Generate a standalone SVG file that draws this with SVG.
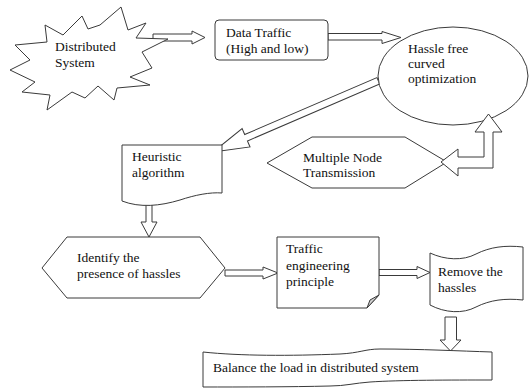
<svg xmlns="http://www.w3.org/2000/svg" width="529" height="388" viewBox="0 0 529 388">
  <style>
    .shape { fill: #ffffff; stroke: #3a3a3a; stroke-width: 1; stroke-linejoin: miter; }
    .arrow { fill: #ffffff; stroke: #3a3a3a; stroke-width: 1; stroke-linejoin: miter; }
    text { font-family: "Times New Roman", "Liberation Serif", "DejaVu Serif", "Noto Serif", serif; font-size: 13.5px; fill: #111111; }
  </style>
  <rect width="529" height="388" fill="#ffffff"/>

  <!-- connectors (hollow block arrows) -->
  <g id="connectors">
    <polygon class="arrow" points="153,34 192,34 192,31 205,37.5 192,44 192,41 153,41"/>
    <polygon class="arrow" points="328,33.5 382,33.5 382,31.5 401,37.5 382,43.5 382,40 328,40"/>
    <g transform="translate(213,152) rotate(156.7)">
      <polygon class="arrow" points="0,0 -36,-10 -36,-3.5 -180,-3.5 -180,3.5 -36,3.5 -36,10"/>
    </g>
    <polygon class="arrow" points="146,202 152,202 152,222 157,222 149,237 141,222 146,222"/>
    <polygon class="arrow" points="225,270 263,270 263,267 278,273 263,279 263,276 225,276"/>
    <polygon class="arrow" points="379,269.5 417,269.5 417,266.5 430,272.5 417,278.5 417,275.5 379,275.5"/>
    <polygon class="arrow" points="445,317 456.5,317 456.5,340 461,340 450.5,351 440,340 445,340"/>
  </g>

  <!-- Distributed System (explosion) -->
  <g id="distributed-system">
    <polygon class="shape" points="45,25 63,35 82,16 88,29 100,25 121,7 128,30 146,23 136,38 168,39 142,52 152,68 130,77 150,85 117,88 114,100 98,86 85,98 72,92 47,110 50,95 22,92 35,82 10,70 30,60 15,45 47,42"/>
    <text x="55" y="51">Distributed</text>
    <text x="55" y="67">System</text>
  </g>

  <!-- Data Traffic -->
  <g id="data-traffic">
    <rect class="shape" x="215" y="20" width="113" height="40" rx="4" ry="4"/>
    <text x="226" y="37">Data Traffic</text>
    <text x="226" y="53">(High and low)</text>
  </g>

  <!-- Hassle free curved optimization -->
  <g id="hassle-free">
    <ellipse class="shape" cx="453" cy="76" rx="75" ry="49"/>
    <text x="408" y="53">Hassle free</text>
    <text x="408" y="68">curved</text>
    <text x="408" y="83">optimization</text>
  </g>

  <!-- Heuristic algorithm (document) -->
  <g id="heuristic">
    <path class="shape" d="M122,145 H222 V193 C210,192 195,195 180,200 C160,206 140,208 122,201 Z"/>
    <text x="132" y="161">Heuristic</text>
    <text x="132" y="177">algorithm</text>
  </g>

  <!-- Multiple Node Transmission (hexagon) -->
  <g id="multiple-node">
    <polygon class="shape" points="312,137 405,137 447,162 405,188 312,188 267,163"/>
    <text x="303" y="162">Multiple Node</text>
    <text x="303" y="177">Transmission</text>
  </g>

  <!-- bent arrow drawn over the hexagon tip -->
  <g id="connectors-top">
    <polygon class="arrow" points="441,162 458,149 458,157 484,157 484,132 475,132 488.5,114 502,132 493,132 493,168 458,168 458,176"/>
  </g>

  <!-- Identify the presence of hassles (hexagon) -->
  <g id="identify">
    <polygon class="shape" points="67,237 200,237 225,268 200,298 67,298 42,268"/>
    <text x="77" y="262">Identify the</text>
    <text x="77" y="278">presence of hassles</text>
  </g>

  <!-- Traffic engineering principle (note with folded corner) -->
  <g id="traffic-engineering">
    <polygon class="shape" points="277,237 379,237 379,295 367,308 277,308"/>
    <polygon points="367,308 370,300 379,295" fill="#cfcfcf" stroke="#3a3a3a" stroke-width="1"/>
    <text x="286" y="253">Traffic</text>
    <text x="286" y="270">engineering</text>
    <text x="286" y="286">principle</text>
  </g>

  <!-- Remove the hassles (punched tape) -->
  <g id="remove-hassles">
    <path class="shape" d="M430,253 C445,260 463,261 476,254 C490,247 505,245 523,247 V300 C505,298 490,300 476,307 C463,314 445,313 430,305 Z"/>
    <text x="438" y="276">Remove the</text>
    <text x="438" y="292">hassles</text>
  </g>

  <!-- Balance the load in distributed system (punched tape) -->
  <g id="balance-load">
    <path class="shape" d="M203,352 C240,356 290,356 340,354 C360,353 365,349 380,349 C420,349 460,351 492,352 V380 C450,380 400,380 370,382 C355,383 345,386 330,386 C290,387 240,387 203,387 Z"/>
    <text x="213" y="372">Balance the load in distributed system</text>
  </g>
</svg>
